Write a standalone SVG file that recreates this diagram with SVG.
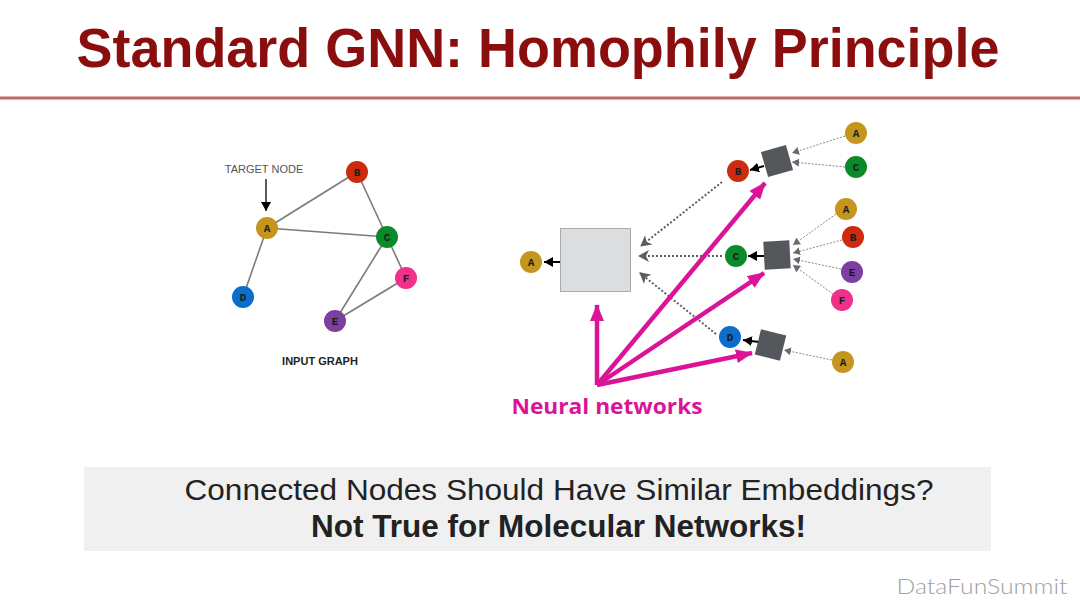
<svg xmlns="http://www.w3.org/2000/svg" width="1080" height="608" viewBox="0 0 1080 608">
<defs>
<style>
.edge{stroke:#7a7a7a;stroke-width:1.6;fill:none}
.nl{font-family:"Liberation Mono",monospace;font-weight:bold;font-size:11px;fill:#1a1a1a;text-anchor:middle}
.dot{stroke:#5a5d62;stroke-width:2;stroke-dasharray:2 2;fill:none}
.thin{stroke:#8a8a8a;stroke-width:1;stroke-dasharray:2 1.5;fill:none}
.blk{stroke:#000;stroke-width:2;fill:none}
.mag{stroke:#DB1497;stroke-width:4.5;fill:none}
.sq{fill:#54575C}
</style>
<marker id="mg" markerUnits="userSpaceOnUse" markerWidth="18" markerHeight="14" refX="16" refY="7" orient="auto"><path d="M0,0 L17,7 L0,14 z" fill="#DB1497"/></marker>
<marker id="gd" markerUnits="userSpaceOnUse" markerWidth="12" markerHeight="12" refX="10" refY="6" orient="auto"><path d="M0,0 L11,6 L0,12 L3,6 z" fill="#5a5d62"/></marker>
<marker id="gt" markerUnits="userSpaceOnUse" markerWidth="8" markerHeight="8" refX="7" refY="4" orient="auto"><path d="M0,0 L7,4 L0,8 z" fill="#6a6a6a"/></marker>
<marker id="bk" markerUnits="userSpaceOnUse" markerWidth="10" markerHeight="10" refX="9" refY="5" orient="auto"><path d="M0,0 L9,5 L0,10 z" fill="#000"/></marker>
</defs>
<rect width="1080" height="608" fill="#fff"/>
<text x="538" y="67" font-family="Liberation Sans,Arial,sans-serif" font-weight="bold" font-size="55" fill="#8B0E0E" text-anchor="middle" textLength="923" lengthAdjust="spacingAndGlyphs">Standard GNN: Homophily Principle</text>
<rect x="0" y="96.5" width="1080" height="3" fill="#C0696A"/>

<g id="connectors">
<line class="edge" x1="267" y1="228" x2="357" y2="172"/>
<line class="edge" x1="267" y1="228" x2="387" y2="237"/>
<line class="edge" x1="267" y1="228" x2="243" y2="297"/>
<line class="edge" x1="357" y1="172" x2="387" y2="237"/>
<line class="edge" x1="387" y1="237" x2="335" y2="321"/>
<line class="edge" x1="387" y1="237" x2="406" y2="278"/>
<line class="edge" x1="335" y1="321" x2="406" y2="278"/>
<line x1="266" y1="179" x2="266" y2="211" stroke="#000" stroke-width="1.3" marker-end="url(#bk)"/>

<line class="dot" x1="722" y1="182" x2="641" y2="246" marker-end="url(#gd)"/>
<line class="dot" x1="722" y1="256" x2="639" y2="256" marker-end="url(#gd)"/>
<line class="dot" x1="716" y1="334" x2="640" y2="273" marker-end="url(#gd)"/>
<line class="blk" x1="561" y1="262" x2="544" y2="262" marker-end="url(#bk)"/>
<line class="blk" x1="764" y1="166" x2="750" y2="170" marker-end="url(#bk)"/>
<line class="blk" x1="764" y1="256" x2="748" y2="256" marker-end="url(#bk)"/>
<line class="blk" x1="759" y1="342" x2="743" y2="340" marker-end="url(#bk)"/>

<line class="thin" x1="845" y1="136" x2="792" y2="153" marker-end="url(#gt)"/>
<line class="thin" x1="845" y1="167" x2="792" y2="162" marker-end="url(#gt)"/>
<line class="thin" x1="836" y1="214" x2="793" y2="245" marker-end="url(#gt)"/>
<line class="thin" x1="842" y1="240" x2="793" y2="253" marker-end="url(#gt)"/>
<line class="thin" x1="841" y1="269" x2="793" y2="259" marker-end="url(#gt)"/>
<line class="thin" x1="833" y1="294" x2="793" y2="265" marker-end="url(#gt)"/>
<line class="thin" x1="832" y1="360" x2="784" y2="350" marker-end="url(#gt)"/>

<line class="mag" x1="597" y1="385" x2="597" y2="305" marker-end="url(#mg)"/>
<line class="mag" x1="597" y1="385" x2="765" y2="183" marker-end="url(#mg)"/>
<line class="mag" x1="597" y1="385" x2="764" y2="273" marker-end="url(#mg)"/>
<line class="mag" x1="597" y1="385" x2="752" y2="353" marker-end="url(#mg)"/>
</g>

<text x="264" y="173" font-family="Liberation Sans,Arial,sans-serif" font-size="11" fill="#555" text-anchor="middle">TARGET NODE</text>
<g id="gA"><circle cx="267" cy="228" r="11" fill="#C4961E"/><text class="nl" x="267" y="231.5">A</text></g>
<g id="gB"><circle cx="357" cy="172" r="11" fill="#CC2B0F"/><text class="nl" x="357" y="175.5">B</text></g>
<g id="gC"><circle cx="387" cy="237" r="11" fill="#0B8A2B"/><text class="nl" x="387" y="240.5">C</text></g>
<g id="gD"><circle cx="243" cy="297" r="11" fill="#0C6ECC"/><text class="nl" x="243" y="300.5">D</text></g>
<g id="gE"><circle cx="335" cy="321" r="11" fill="#7B3FA0"/><text class="nl" x="335" y="324.5">E</text></g>
<g id="gF"><circle cx="406" cy="278" r="11" fill="#F0308A"/><text class="nl" x="406" y="281.5">F</text></g>
<text x="320" y="365" font-family="Liberation Sans,Arial,sans-serif" font-weight="bold" font-size="11" fill="#222" text-anchor="middle">INPUT GRAPH</text>

<g id="rA"><circle cx="531" cy="262" r="11" fill="#C4961E"/><text class="nl" x="531" y="265.5">A</text></g>
<g id="box"><rect x="560.5" y="228.5" width="70" height="63" fill="#DCDDDF" stroke="#A9AAAD" stroke-width="1"/></g>
<g id="rB"><circle cx="738" cy="171" r="11" fill="#CC2B0F"/><text class="nl" x="738" y="174.5">B</text></g>
<g id="rC"><circle cx="736" cy="256" r="11" fill="#0B8A2B"/><text class="nl" x="736" y="259.5">C</text></g>
<g id="rD"><circle cx="730" cy="337" r="11" fill="#0C6ECC"/><text class="nl" x="730" y="340.5">D</text></g>
<g id="sq1"><rect class="sq" x="-13" y="-13" width="26" height="26" transform="translate(777,161) rotate(-16)"/></g>
<g id="sq2"><rect class="sq" x="-13" y="-14" width="26" height="28" transform="translate(777,255) rotate(-3)"/></g>
<g id="sq3"><rect class="sq" x="-13" y="-13" width="26" height="26" transform="translate(770.5,345) rotate(14)"/></g>
<g id="l1A"><circle cx="856" cy="133" r="11" fill="#C4961E"/><text class="nl" x="856" y="136.5">A</text></g>
<g id="l1C"><circle cx="856" cy="167" r="11" fill="#0B8A2B"/><text class="nl" x="856" y="170.5">C</text></g>
<g id="l2A"><circle cx="846" cy="209" r="11" fill="#C4961E"/><text class="nl" x="846" y="212.5">A</text></g>
<g id="l2B"><circle cx="853" cy="237" r="11" fill="#CC2B0F"/><text class="nl" x="853" y="240.5">B</text></g>
<g id="l2E"><circle cx="852" cy="272" r="11" fill="#7B3FA0"/><text class="nl" x="852" y="275.5">E</text></g>
<g id="l2F"><circle cx="842" cy="300" r="11" fill="#F0308A"/><text class="nl" x="842" y="303.5">F</text></g>
<g id="l3A"><circle cx="843" cy="362" r="11" fill="#C4961E"/><text class="nl" x="843" y="365.5">A</text></g>

<text x="607" y="414" font-family="Open Sans,Liberation Sans,sans-serif" font-weight="bold" font-size="22" fill="#DB1497" text-anchor="middle" textLength="191" lengthAdjust="spacingAndGlyphs">Neural networks</text>

<g id="note">
<rect x="84" y="467" width="907" height="84" fill="#F0F0F0"/>
<text x="559" y="500" font-family="Liberation Sans,Arial,sans-serif" font-size="30" fill="#222" text-anchor="middle" textLength="749" lengthAdjust="spacingAndGlyphs">Connected Nodes Should Have Similar Embeddings?</text>
<text x="558.5" y="537" font-family="Liberation Sans,Arial,sans-serif" font-weight="bold" font-size="31" fill="#222" text-anchor="middle" textLength="495" lengthAdjust="spacingAndGlyphs">Not True for Molecular Networks!</text>
</g>
<text x="982" y="594" font-family="Lato,Open Sans,sans-serif" font-weight="300" font-size="21" fill="#a0a0a0" text-anchor="middle" textLength="171" lengthAdjust="spacingAndGlyphs">DataFunSummit</text>
</svg>
